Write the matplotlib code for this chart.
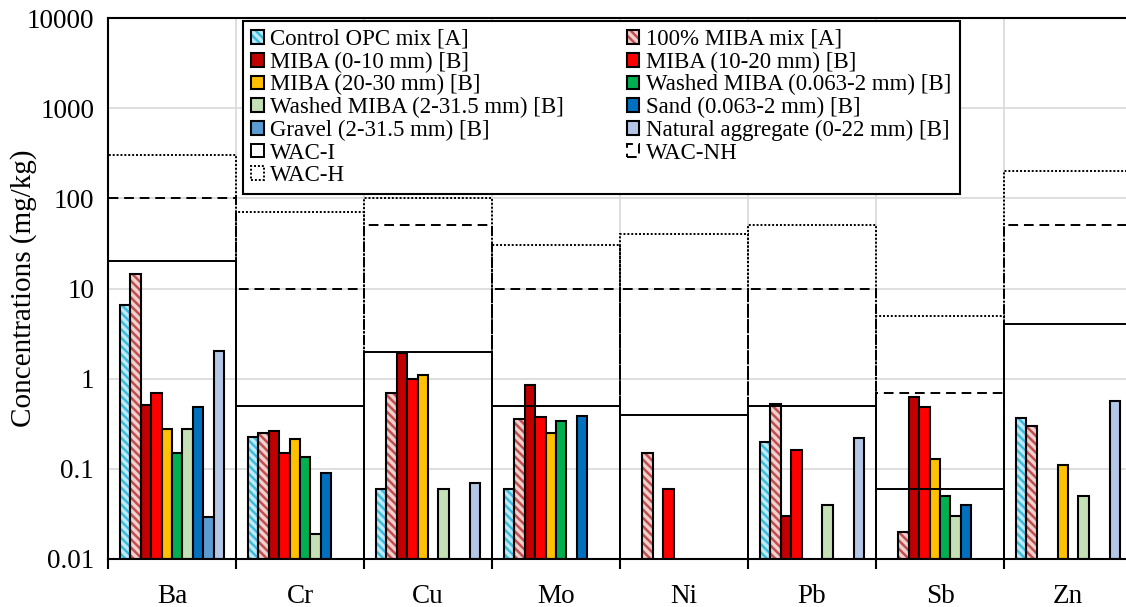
import numpy as np
import matplotlib
matplotlib.use("Agg")
import matplotlib.pyplot as plt
from matplotlib.patches import Patch

plt.rcParams['font.family'] = ['Liberation Serif', 'DejaVu Serif']
plt.rcParams['hatch.linewidth'] = 1.8

nan = np.nan

# ------------------------------------------------------------------ #
#  Data (mg/kg)                               #
# ------------------------------------------------------------------ #
elements = ['Ba', 'Cr', 'Cu', 'Mo', 'Ni', 'Pb', 'Sb', 'Zn']

series_labels = [
    'Control OPC mix [A]',
    '100% MIBA mix [A]',
    'MIBA (0-10 mm) [B]',
    'MIBA (10-20 mm) [B]',
    'MIBA (20-30 mm) [B]',
    'Washed MIBA (0.063-2 mm) [B]',
    'Washed MIBA (2-31.5 mm) [B]',
    'Sand (0.063-2 mm) [B]',
    'Gravel (2-31.5 mm) [B]',
    'Natural aggregate (0-22 mm) [B]',
]

control_opc   = [6.6,   0.225, 0.06, 0.06,  nan,  0.20, nan,  0.37]
miba_100      = [14.3,  0.25,  0.69, 0.36,  0.15, 0.52, 0.02, 0.30]
miba_0_10     = [0.51,  0.26,  1.95, 0.84,  nan,  0.03, 0.63, nan]
miba_10_20    = [0.69,  0.15,  1.0,  0.375, 0.06, 0.16, 0.48, nan]
miba_20_30    = [0.28,  0.215, 1.1,  0.25,  nan,  nan,  0.13, 0.11]
washed_fine   = [0.15,  0.135, nan,  0.34,  nan,  nan,  0.05, nan]
washed_coarse = [0.28,  0.019, 0.06, nan,   nan,  0.04, 0.03, 0.05]
sand          = [0.48,  0.09,  nan,  0.39,  nan,  nan,  0.04, nan]
gravel        = [0.029, nan,   nan,  nan,   nan,  nan,  nan,  nan]
natural_agg   = [2.05,  nan,   0.07, nan,   nan,  0.22, nan,  0.565]

series_values = [control_opc, miba_100, miba_0_10, miba_10_20, miba_20_30,
                 washed_fine, washed_coarse, sand, gravel, natural_agg]

# WAC limit values (L/S = 10)
wac_i  = [20,  0.5, 2,   0.5, 0.4, 0.5, 0.06, 4]
wac_nh = [100, 10,  50,  10,  10,  10,  0.7,  50]
wac_h  = [300, 70,  100, 30,  40,  50,  5,    200]

ytick_vals = [0.01, 0.1, 1, 10, 100, 1000, 10000]
ytick_labels = ['0.01', '0.1', '1', '10', '100', '1000', '10000']

# ------------------------------------------------------------------ #
#  Styles                                                             #
# ------------------------------------------------------------------ #
face_colors = ['#BDEBF7', '#F4CFCF', '#C00000', '#FF0000', '#FFC000',
               '#00B050', '#C5E0B4', '#0070C0', '#5B9BD5', '#B4C7E7']
hatch_colors = {0: '#3DBCE0', 1: '#C0504D'}
HATCH = '\\\\\\\\'

Y0 = 0.01
n_series = len(series_labels)
bar_w = 0.082
group_x = np.arange(len(elements)) + 0.5
offsets = (np.arange(n_series) - (n_series - 1) / 2) * bar_w

fig = plt.figure(figsize=(11.26, 6.07), dpi=100)
ax = fig.add_axes([108 / 1126, 48 / 607, 1024 / 1126, 541 / 607])
ax.set_yscale('log')

handles = []
for i, (lab, vals) in enumerate(zip(series_labels, series_values)):
    v = np.array(vals, dtype=float)
    x = group_x + offsets[i]
    ok = ~np.isnan(v)
    if i in hatch_colors:
        ax.bar(x[ok], v[ok] - Y0, bottom=Y0, width=bar_w, facecolor=face_colors[i],
               edgecolor=hatch_colors[i], hatch=HATCH, linewidth=0, zorder=2)
        ax.bar(x[ok], v[ok] - Y0, bottom=Y0, width=bar_w, fill=False,
               edgecolor='black', linewidth=1.5, zorder=2.1)
        h = (Patch(facecolor=face_colors[i], edgecolor=hatch_colors[i], hatch=HATCH, linewidth=0),
             Patch(fill=False, edgecolor='black', linewidth=1.5))
    else:
        ax.bar(x[ok], v[ok] - Y0, bottom=Y0, width=bar_w, facecolor=face_colors[i],
               edgecolor='black', linewidth=1.5, zorder=2)
        h = Patch(facecolor=face_colors[i], edgecolor='black', linewidth=1.5)
    handles.append(h)

wac_sets = [('WAC-I', wac_i, '-'), ('WAC-NH', wac_nh, (0, (5, 3))), ('WAC-H', wac_h, (0, (1, 1)))]
wac_handles = []
for name, vals, ls in wac_sets:
    v = np.array(vals, dtype=float)
    ax.bar(group_x, v - Y0, bottom=Y0, width=1.0, fill=False, edgecolor='black',
           linewidth=1.4, linestyle=ls, zorder=3)
    wac_handles.append(Patch(facecolor='white', edgecolor='black', linewidth=1.4, linestyle=ls))

# axes
ax.set_xlim(0, len(elements))
ax.set_ylim(0.01, 10000)
ax.set_yticks(ytick_vals)
ax.set_yticklabels(ytick_labels)
ax.yaxis.set_minor_locator(matplotlib.ticker.NullLocator())
ax.set_xticks(np.arange(len(elements) + 1))
ax.set_xticklabels([])
ax.set_xticks(group_x, minor=True)
ax.set_xticklabels(elements, minor=True)
ax.tick_params(axis='x', which='major', length=7, width=1.5, direction='out')
ax.tick_params(axis='x', which='minor', length=0, pad=18, labelsize=19.5)
ax.tick_params(axis='y', which='major', length=0, pad=10, labelsize=19.5)
ax.grid(True, which='major', color='#D9D9D9', linewidth=1.2)
ax.set_axisbelow(True)
for s in ['left', 'bottom', 'top']:
    ax.spines[s].set_linewidth(1.5)
ax.spines['right'].set_visible(False)
ax.set_ylabel('Concentrations (mg/kg)', fontsize=21)
ax.yaxis.set_label_coords(-0.069, 0.5)

# legend: column-wise order so rows read like the reference
order_col1 = [handles[0], handles[2], handles[4], handles[6], handles[8], wac_handles[0], wac_handles[2]]
labs_col1 = [series_labels[0], series_labels[2], series_labels[4], series_labels[6],
             series_labels[8], 'WAC-I', 'WAC-H']
order_col2 = [handles[1], handles[3], handles[5], handles[7], handles[9], wac_handles[1]]
labs_col2 = [series_labels[1], series_labels[3], series_labels[5], series_labels[7],
             series_labels[9], 'WAC-NH']
leg = ax.legend(order_col1 + order_col2, labs_col1 + labs_col2, ncol=2,
                loc='upper left', bbox_to_anchor=(0.1318, 0.678, 0.700, 0.3165),
                mode='expand', fontsize=16.5, frameon=True, fancybox=False,
                edgecolor='black', framealpha=1, handlelength=0.55, handleheight=0.55,
                handletextpad=0.3, labelspacing=0.07, borderpad=0.35, borderaxespad=0)
leg.get_frame().set_linewidth(1.5)

fig.savefig('out.png', dpi=100)
